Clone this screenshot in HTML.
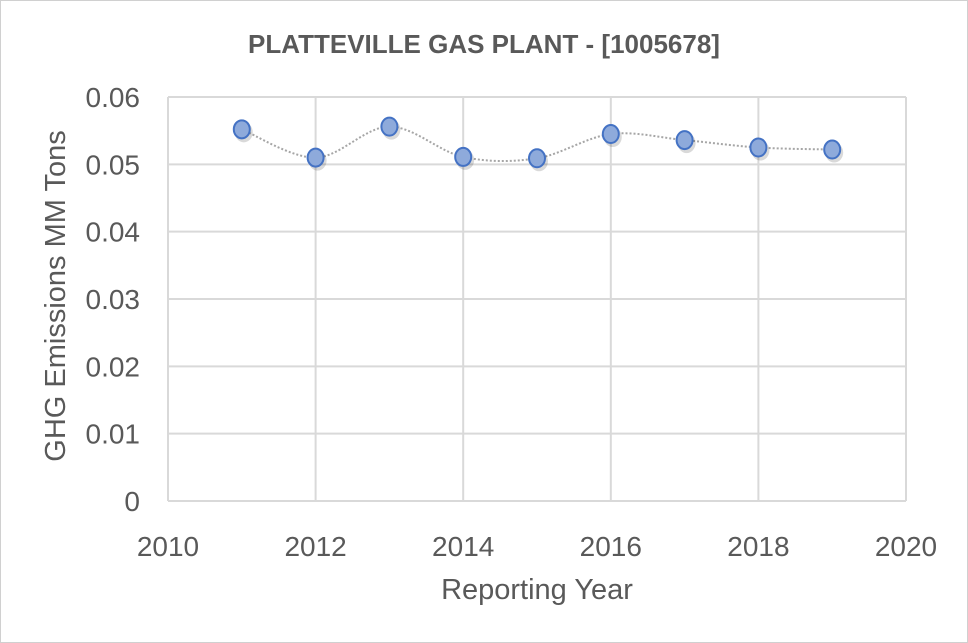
<!DOCTYPE html>
<html><head><meta charset="utf-8"><style>
body{margin:0;background:#fff;}
svg{display:block;font-family:"Liberation Sans",sans-serif;}
</style></head><body>
<svg id="chart" width="968" height="643">
<rect x="0.5" y="0.5" width="967" height="642" fill="#fff" stroke="#d0d0d0"/>
<text x="484" y="53" text-anchor="middle" font-size="26" font-weight="bold" fill="#595959">PLATTEVILLE GAS PLANT - [1005678]</text>
<g id="grid"></g><g id="axes"></g><g id="series"></g>
<text x="537" y="599" text-anchor="middle" font-size="29" fill="#595959">Reporting Year</text>
<text transform="translate(65,296) rotate(-90)" text-anchor="middle" font-size="29" fill="#595959">GHG Emissions MM Tons</text>
</svg>
<script>
const years=[2011,2012,2013,2014,2015,2016,2017,2018,2019];
const values=[0.0552,0.0510,0.0556,0.0511,0.0509,0.0545,0.0536,0.0525,0.0522];
const xTicks=[2010,2012,2014,2016,2018,2020];
const yTicks=[0,0.01,0.02,0.03,0.04,0.05,0.06];
const yLabels=["0","0.01","0.02","0.03","0.04","0.05","0.06"];
const NS="http://www.w3.org/2000/svg";
const x=v=>168+(v-2010)/10*738;
const y=v=>501-v/0.06*404;
function mk(t,a,p){const e=document.createElementNS(NS,t);for(const k in a)e.setAttribute(k,a[k]);p.appendChild(e);return e;}
const grid=document.getElementById('grid'),axes=document.getElementById('axes'),ser=document.getElementById('series');
yTicks.forEach((t,i)=>{
 const l=mk('line',{x1:168,x2:906,y1:y(t),y2:y(t),stroke:'#d9d9d9','stroke-width':2},grid);
 
 
 const tx=mk('text',{x:140,y:y(t)+10,'text-anchor':'end','font-size':28,fill:'#595959'},axes);
 tx.textContent=yLabels[i];
 
 
});
xTicks.forEach(t=>{
 const l=mk('line',{x1:x(t),x2:x(t),y1:97,y2:501,stroke:'#d9d9d9','stroke-width':2},grid);
 
 
 const tx=mk('text',{x:x(t),y:556,'text-anchor':'middle','font-size':28,fill:'#595959'},axes);
 tx.textContent=String(t);
 
 
});
const pts=years.map((yr,i)=>[x(yr),y(values[i])]);
let d='M'+pts[0][0]+','+pts[0][1];
for(let i=0;i<pts.length-1;i++){
 const p0=pts[Math.max(0,i-1)],p1=pts[i],p2=pts[i+1],p3=pts[Math.min(pts.length-1,i+2)];
 const c1=[p1[0]+(p2[0]-p0[0])/6,p1[1]+(p2[1]-p0[1])/6],c2=[p2[0]-(p3[0]-p1[0])/6,p2[1]-(p3[1]-p1[1])/6];
 d+=` C${c1[0]},${c1[1]} ${c2[0]},${c2[1]} ${p2[0]},${p2[1]}`;
}
const path=mk('path',{d:d,fill:'none',stroke:'#a6a6a6','stroke-width':2,'stroke-dasharray':'2,2'},ser);


pts.forEach(p=>{
 const s=mk('ellipse',{cx:p[0]+2,cy:p[1]+3,rx:9,ry:10,fill:'rgba(0,0,0,0.15)'},ser);
 
 
 const c=mk('ellipse',{cx:p[0],cy:p[1],rx:8,ry:9,fill:'#8eaadb',stroke:'#4472c4','stroke-width':2},ser);
 
 
});
</script>
</body></html>
